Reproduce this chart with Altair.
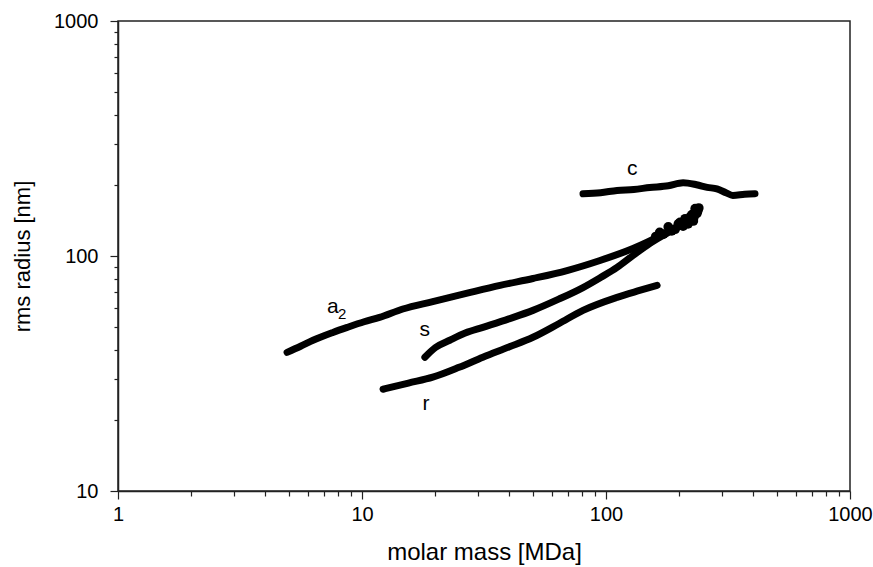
import altair as alt
import pandas as pd

# Molar mass [MDa] and rms radius [nm] for each fraction
a2_mass = [4.93, 5.6, 6.3, 7.6, 8.7, 10.2, 11.8, 14.7, 19.5, 27.0, 36.8, 50.2, 69.2,
           94.5, 129.0, 178.0, 205.0, 225.0, 236.0]
a2_radius = [38.9, 41.3, 43.8, 47.3, 49.7, 52.5, 54.8, 59.5, 64.0, 69.5, 75.0, 80.2, 86.7,
             95.7, 107.6, 126.0, 136.0, 145.0, 153.0]

# scattered points at the high-mass end of a2, where the trace thickens
a2_tail_mass = [160.0, 166.0, 172.0, 180.0, 186.0, 192.0, 198.0, 201.0, 207.0, 211.0,
                215.0, 217.0, 222.0, 225.0, 228.0, 229.0, 232.0, 234.0, 236.0, 238.0, 240.0]
a2_tail_radius = [121.0, 126.0, 124.0, 133.0, 128.0, 130.0, 137.0, 139.0, 134.0, 144.0,
                  140.0, 137.0, 147.0, 150.0, 141.0, 146.0, 159.0, 154.0, 152.0, 156.0, 160.0]

s_mass = [18.1, 20.0, 22.9, 26.5, 31.3, 40.0, 50.2, 64.0, 80.5, 95.0, 111.0, 129.0,
          151.0, 178.0, 205.0, 225.0, 236.0]
s_radius = [37.1, 40.8, 43.8, 47.0, 49.7, 54.0, 58.7, 65.5, 73.4, 81.0, 89.4, 100.5,
            113.0, 125.0, 136.0, 146.0, 153.0]

r_mass = [12.2, 15.5, 19.5, 25.0, 31.3, 40.0, 50.2, 64.0, 80.5, 111.0, 135.0, 162.0]
r_radius = [27.1, 28.8, 30.5, 33.6, 37.1, 41.0, 45.1, 51.5, 58.7, 66.7, 71.0, 75.0]

c_mass = [80.5, 95.0, 111.0, 130.0, 151.0, 180.0, 207.0, 235.0, 260.0, 285.0, 310.0,
          331.0, 370.0, 408.0]
c_radius = [184.0, 186.0, 190.0, 192.0, 195.6, 199.0, 205.0, 201.0, 196.0, 193.0, 186.0,
            181.0, 183.0, 184.0]

# Curve labels and where they sit
label_text = ["c", "a", "s", "r"]
label_mass = [128.0, 7.6, 18.1, 18.3]
label_radius = [235.0, 60.4, 48.3, 23.4]

x_ticks = [m * d for d in (1, 10, 100) for m in range(1, 10)] + [1000]
y_ticks = [m * d for d in (10, 100) for m in range(1, 10)] + [1000]

rows = []
for name, xs, ys in (("a2", a2_mass, a2_radius), ("s", s_mass, s_radius),
                     ("r", r_mass, r_radius), ("c", c_mass, c_radius)):
    for i, (xv, yv) in enumerate(zip(xs, ys)):
        rows.append({"series": name, "order": i, "mass": xv, "radius": yv})
curves = pd.DataFrame(rows)
tail = pd.DataFrame({"mass": a2_tail_mass, "radius": a2_tail_radius})
labels = pd.DataFrame({"text": label_text, "mass": label_mass, "radius": label_radius})
sub = pd.DataFrame({"text": ["2"], "mass": [label_mass[1]], "radius": [label_radius[1]]})

font = "Liberation Sans"
is_major = "indexof([1,10,100,1000], datum.value) >= 0"

x_enc = alt.X(
    "mass:Q",
    scale=alt.Scale(type="log", domain=[1, 1000], nice=False),
    axis=alt.Axis(
        title="molar mass [MDa]", values=x_ticks, grid=False,
        labelExpr=f"{is_major} ? format(datum.value, 'd') : ''",
        tickSize={"condition": {"test": is_major, "value": 8}, "value": 5},
        labelFont=font, labelFontSize=20, labelColor="black", labelPadding=5,
        titleFont=font, titleFontSize=24, titleFontWeight="normal", titleColor="black",
        titlePadding=16, domainColor="#222", domainWidth=1.5, tickColor="#222",
        tickWidth=1.2, labelFlush=False, labelOverlap=False,
    ),
)
y_enc = alt.Y(
    "radius:Q",
    scale=alt.Scale(type="log", domain=[10, 1000], nice=False),
    axis=alt.Axis(
        title="rms radius [nm]", values=y_ticks, grid=False,
        labelExpr=f"{is_major} ? format(datum.value, 'd') : ''",
        tickSize={"condition": {"test": is_major, "value": 8}, "value": 4},
        labelFont=font, labelFontSize=20, labelColor="black", labelPadding=12,
        titleFont=font, titleFontSize=22, titleFontWeight="normal", titleColor="black",
        titlePadding=19, domainColor="#222", domainWidth=1.5, tickColor="#222",
        tickWidth=1.2, labelFlush=False, labelOverlap=False,
    ),
)

lines = alt.Chart(curves).mark_line(
    color="black", strokeWidth=7, strokeCap="round", strokeJoin="round",
    interpolate="monotone",
).encode(x=x_enc, y=y_enc, detail="series:N", order="order:Q")

tail_pts = alt.Chart(tail).mark_circle(
    color="black", opacity=1, size=95
).encode(x="mass:Q", y="radius:Q")

text = alt.Chart(labels).mark_text(
    font=font, fontSize=21, color="black", align="center", baseline="middle"
).encode(x="mass:Q", y="radius:Q", text="text:N")

subscript = alt.Chart(sub).mark_text(
    font=font, fontSize=15, color="black", align="left", baseline="middle", dx=5, dy=7
).encode(x="mass:Q", y="radius:Q", text="text:N")

chart = alt.layer(lines, tail_pts, text, subscript).properties(
    width=732, height=470,
    autosize=alt.AutoSizeParams(type="none"),
    padding={"left": 118, "top": 21, "right": 23, "bottom": 76},
    background="white",
).configure_view(stroke="#222", strokeWidth=1.5)

chart.save("out.html", embed_options={"renderer": "svg", "actions": False})
